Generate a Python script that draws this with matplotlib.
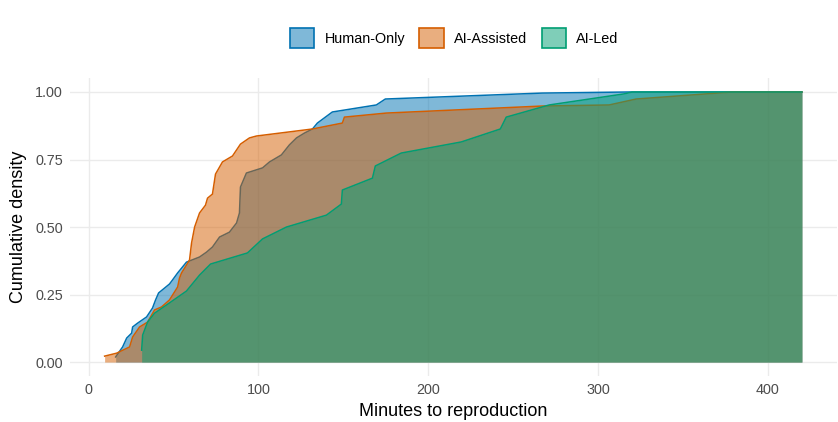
import matplotlib
matplotlib.use("Agg")
import matplotlib.pyplot as plt
import matplotlib.colors as mc
from matplotlib.patches import Patch

plt.rcParams['font.family'] = ['Liberation Sans', 'DejaVu Sans']

groups = ["Human-Only", "AI-Assisted", "AI-Led"]
colors = ["#0072B2", "#D55E00", "#009E73"]

human_x = [15.9, 20.0, 22.4, 25.3, 25.9, 28.8, 34.1, 37.6, 39.4, 41.2, 44.7, 47.6, 49.4, 52.4,
           57.6, 65.3, 69.4, 72.9, 77.1, 82.9, 87.1, 88.8, 89.4, 92.9, 102.4, 106.5, 113.5,
           118.2, 122.4, 127.1, 131.8, 134.7, 143.5, 169.4, 174.7, 267.0, 318.0, 420.0]
human_y = [0.019, 0.056, 0.089, 0.107, 0.130, 0.144, 0.167, 0.200, 0.230, 0.256, 0.274, 0.289,
           0.304, 0.330, 0.370, 0.389, 0.407, 0.426, 0.463, 0.481, 0.515, 0.552, 0.648, 0.700,
           0.719, 0.741, 0.767, 0.804, 0.830, 0.848, 0.863, 0.885, 0.926, 0.952, 0.974, 0.996,
           1.0, 1.0]

assisted_x = [9.4, 16.5, 24.1, 25.9, 30.0, 34.7, 38.8, 42.9, 47.6, 49.4, 52.4, 53.5, 54.7, 56.5,
              59.4, 60.6, 62.4, 65.3, 68.8, 70.0, 72.9, 74.7, 78.8, 84.7, 89.4, 94.7, 98.8,
              131.8, 149.4, 150.6, 175.3, 267.0, 306.5, 322.4, 378.8, 420.0]
assisted_y = [0.022, 0.033, 0.056, 0.093, 0.130, 0.148, 0.193, 0.204, 0.230, 0.248, 0.278, 0.311,
              0.330, 0.348, 0.378, 0.441, 0.500, 0.552, 0.581, 0.607, 0.622, 0.696, 0.741, 0.763,
              0.807, 0.830, 0.837, 0.863, 0.885, 0.907, 0.922, 0.948, 0.952, 0.974, 1.0, 1.0]

led_x = [31.2, 31.8, 34.7, 38.8, 47.6, 57.6, 65.3, 71.8, 93.5, 102.4, 116.5, 140.0, 148.8,
         149.4, 167.1, 168.8, 184.1, 219.4, 242.4, 245.9, 271.2, 315.3, 320.0, 420.0]
led_y = [0.044, 0.100, 0.148, 0.181, 0.219, 0.263, 0.322, 0.363, 0.404, 0.456, 0.500, 0.544,
         0.585, 0.637, 0.681, 0.726, 0.774, 0.815, 0.863, 0.907, 0.952, 0.993, 1.0, 1.0]

series = [(human_x, human_y), (assisted_x, assisted_y), (led_x, led_y)]

fig = plt.figure(figsize=(8.38, 4.22), dpi=100)
ax = fig.add_axes([0.0835, 0.110, 0.915, 0.704])

for (x, y), c in zip(series, colors):
    ax.fill_between(x, 0, y, color=c, alpha=0.5, lw=0, zorder=2)
    ax.plot(x, y, color=c, lw=1.1, zorder=2, solid_joinstyle='round')

ax.set_xlim(-11.0, 440.5)
ax.set_ylim(-0.05, 1.05)
ax.set_xticks([0, 100, 200, 300, 400])
ax.set_yticks([0, 0.25, 0.5, 0.75, 1.0])
ax.set_yticklabels(["0.00", "0.25", "0.50", "0.75", "1.00"])
ax.grid(True, color="#EBEBEB", lw=1.0, zorder=0)
ax.set_axisbelow(True)
for s in ax.spines.values():
    s.set_visible(False)
ax.tick_params(length=0, labelsize=10.4, labelcolor="#4D4D4D", pad=5)
ax.set_xlabel("Minutes to reproduction", fontsize=13, labelpad=5)
ax.set_ylabel("Cumulative density", fontsize=13, labelpad=6)

handles = []
for c in colors:
    r, g, b = mc.to_rgb(c)
    handles.append(Patch(facecolor=(r, g, b, 0.5), edgecolor=(r, g, b, 1.0), lw=1.2))
fig.legend(handles, groups, loc="center", bbox_to_anchor=(0.542, 0.91), ncol=3,
           frameon=False, fontsize=10.4, handlelength=1.7, handleheight=1.7,
           handletextpad=0.7, columnspacing=1.0)

fig.savefig("out.png", dpi=100, facecolor="white")
